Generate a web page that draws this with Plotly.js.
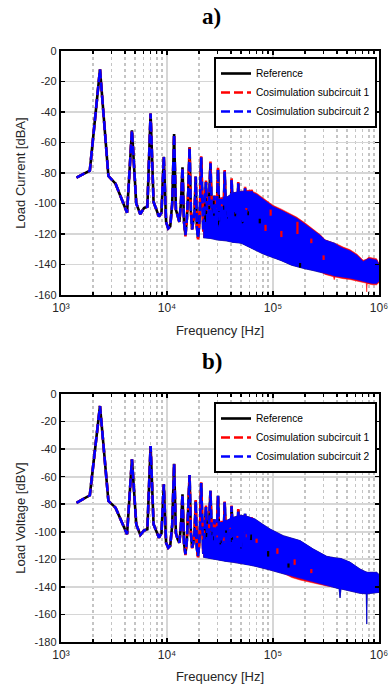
<!DOCTYPE html>
<html><head><meta charset="utf-8">
<script src="https://cdn.plot.ly/plotly-3.0.1.min.js"></script>
<style>html,body{margin:0;padding:0;background:#fff}#chart{width:390px;height:684px}</style>
</head><body><div id="chart"></div>
<script>
// ---------- shared frequency bins of the harmonic (line) region, Hz ----------
const lineF = [1400,1870,2333,2800,3270,3730,4200,4670,5130,5600,6070,6530,7000,7470,7930,8400,8870,9330,9800,10270,10730,11200,11670,12130,12600,13070,13530,14000,14470,14930,15400,15870,16330,16800,17270,17730,18200,18670,19130,19600,20070,20530,21000,22000,23330,24300,25700,26800,28000,29100,30300,31500,32700,33800,35000,36500,38000,39300,40700,42500,44500,45800,47000,49000,51500,53000,54500,57000,60000,63000,66000];

// ---------- a) Load current [dBA] ----------
const refA  = [-83,-78.5,-12,-82,-87,-97,-106,-52,-100,-107,-103,-102,-41,-99,-104,-108.6,-106,-69.3,-112,-116.3,-115,-100,-54.4,-104,-108,-112,-100,-76.3,-112,-120.7,-110,-92,-63.2,-105,-117,-112,-105,-82.4,-115,-122.6,-115,-100,-69.7,-118,-86,-121,-73.7,-119,-95,-122,-77.6,-120,-97,-123,-79,-121,-98,-123,-84.6,-122,-99,-124,-86.8,-124,-100,-125,-90,-126,-100,-92,-112];
const cos1A = [-83,-78.5,-12,-82,-87,-97,-106,-52,-100,-107,-103,-102,-41,-99,-104,-108.6,-106,-69.3,-112,-116.3,-115,-100,-54.4,-104,-108,-112,-100,-76.3,-112,-121.5,-110,-92,-63.2,-105,-117,-112,-105,-82.4,-115,-123.5,-115,-100,-69,-118.5,-85,-121.5,-72.5,-119.5,-94,-122.5,-76.5,-120.5,-96,-123.5,-78,-121.5,-97,-123.5,-83.5,-122.5,-98,-124.5,-86,-124.5,-99,-125.5,-89,-126.5,-99,-91,-112];
const cos2A = [-83,-78.5,-12,-82,-87,-97,-106,-52,-100,-107,-103,-102,-41,-99,-104,-108.6,-106,-69.3,-112,-116.3,-115,-100,-54.4,-104,-108,-112,-100,-76.3,-112,-120.7,-110,-92,-63.2,-105,-117,-112,-105,-82.4,-115,-122.6,-115,-100,-69.7,-118,-86,-121,-73.7,-119,-95,-122,-77.6,-120,-97,-123,-79,-121,-98,-123,-84.6,-122,-99,-124,-86.8,-124,-100,-125,-90,-126,-100,-92,-112];

// dense high-frequency band (upper / lower envelope)
const bandFA  = [22000,26000,30000,36000,42000,50000,60000,70000,80000,100000,120000,150000,167000,200000,240000,280000,310000,350000,380000,420000,460000,530000,620000,710000,760000,800000,870000,950000,1000000];
const bandUpA = [-110,-104,-100,-96,-93,-92,-92,-94,-97,-102,-104.5,-108,-109.7,-113.5,-117.4,-121,-124,-125,-126,-128,-129.4,-131,-134,-138,-137,-136,-136.5,-137,-140];
const bandLoA = [-122.5,-123,-124,-124.5,-125.5,-126,-128.5,-131,-133,-135.5,-137.5,-140.5,-141.5,-142.8,-144,-145,-145.8,-146.8,-147.5,-148,-148.5,-149,-150,-151,-151.5,-152,-152.5,-152.5,-151];
const redBandFA = [22000,26000,30000,36000,42000,50000,60000,70000,80000,100000,120000,150000,167000,200000,240000,280000,310000,350000,372000,378000,385000,420000,460000,530000,620000,710000,758000,766000,774000,800000,870000,950000,1000000];
const redUpA  = [-110.5,-104.5,-100.5,-96.5,-93.5,-92,-91.2,-93.2,-96.2,-101.2,-103.7,-107.2,-108.9,-112.7,-116.6,-120.5,-123.8,-125,-125.6,-125.8,-126,-127.2,-128.6,-130.2,-133.2,-137.2,-136.6,-136.4,-136.2,-135.2,-135.7,-136.2,-139.2];
const redLoA  = [-122,-122.5,-123.5,-124,-125,-125.5,-128,-130.5,-132.5,-135,-137,-140,-141,-142.3,-143.5,-144.5,-146.5,-147.5,-148,-150,-148.2,-148.8,-149.3,-149.8,-150.8,-151.8,-152.2,-158,-152.6,-152.8,-153.3,-153.3,-151.8];
// short traces of Reference / subcircuit 1 seen through the dashes of subcircuit 2
const refStreakFA = [23000,27500,31000,34000,37500,44000,52000,58000,75000,180000];
const refStreakLoA = [-112,-108,-115,-106,-110,-110,-113,-108,-113,-142];
const refStreakHiA = [-100,-98,-105,-100,-103,-104,-108,-104,-110,-139];
const redStreakFA = [24500,28500,33000,42000,56000,85000,95000,120000,170000,230000,300000];
const redStreakLoA = [-100,-106,-102,-110,-106,-118,-108,-122,-120,-126,-137];
const redStreakHiA = [-96,-103,-99,-106,-103,-114,-104,-118,-112,-123,-134];

// ---------- b) Load voltage [dBV] ----------
const refB  = [-79,-73.5,-8.7,-77.6,-82.5,-93,-101.8,-47.4,-94.6,-102.3,-99,-98.2,-37.7,-94.6,-99,-104.3,-101,-65.5,-108,-111.5,-110,-95,-50.6,-101,-105.4,-108,-96,-72.8,-108,-116.3,-106,-87,-58.8,-101,-111.5,-108,-100,-77.6,-112,-117.6,-110,-95,-64.6,-116,-82,-118,-70.2,-117,-91,-119,-73.8,-118,-93,-120,-78.6,-119,-95,-121,-81.5,-120,-96,-122,-84,-122,-97,-123,-87,-124,-97,-90,-108];
const cos1B = [-79,-73.5,-8.7,-77.6,-82.5,-93,-101.8,-47.4,-94.6,-102.3,-99,-98.2,-37.7,-94.6,-99,-104.3,-101,-65.5,-108,-111.5,-110,-95,-50.6,-101,-105.4,-108,-96,-72.8,-108,-117,-106,-86,-58.8,-101,-112,-108,-100,-77,-112,-118.5,-110,-95,-64,-116.5,-81,-118.5,-69.5,-117.5,-90,-119.5,-73,-118.5,-92,-120.5,-78,-119.5,-94,-121.5,-81,-120.5,-95.5,-122.5,-83.5,-122.5,-96.5,-123.5,-86.5,-124.5,-96.5,-89.5,-108];
const cos2B = [-79,-73.5,-8.7,-77.6,-82.5,-93,-101.8,-47.4,-94.6,-102.3,-99,-98.2,-37.7,-94.6,-99,-104.3,-101,-65.5,-108,-111.5,-110,-95,-50.6,-101,-105.4,-108,-96,-72.8,-108,-116.3,-106,-87,-58.8,-101,-111.5,-108,-100,-77.6,-112,-117.6,-110,-95,-64.6,-116,-82,-118,-70.2,-117,-91,-119,-73.8,-118,-93,-120,-78.6,-119,-95,-121,-81.5,-120,-96,-122,-84,-122,-97,-123,-87,-124,-97,-90,-108];

const bandFB  = [22000,26000,30000,36000,42000,50000,58000,67600,80000,93800,125000,150000,180000,240000,280000,321000,380000,420000,429000,438000,532000,662000,740000,758000,766000,774000,800000,951000,1000000];
const bandUpB = [-106,-100,-96,-92,-89.5,-88,-89,-90.7,-94.5,-98,-102.8,-104.8,-106.4,-112.5,-115.5,-117.8,-118.8,-119.3,-119.3,-119.4,-122,-127,-128.8,-129.2,-129.4,-129.4,-129.4,-129.4,-131];
const bandLoB = [-118.5,-119.5,-120.5,-121.5,-122.2,-123,-124,-125,-126.3,-127.8,-130.5,-132.5,-134.3,-136.5,-137.9,-139,-140.5,-141.3,-148,-141.5,-143,-144.7,-145,-145,-167,-145,-145,-144.2,-144];
const redUpB  = [-106.5,-100.5,-96.5,-92.5,-90,-88.5,-89.5,-91.2,-95,-98.5,-103.3,-105.3,-106.9,-113,-116,-118.3,-119.3,-119.8,-119.8,-119.9,-122.5,-127.5,-129.3,-129.7,-129.9,-129.9,-129.9,-129.9,-131.5];
const redLoB  = [-118,-119,-120,-121,-121.7,-122.5,-123.5,-124.5,-125.8,-127.3,-130,-133.2,-135,-137.2,-138.5,-139.4,-140,-140.8,-140.8,-141,-142.5,-144.2,-144.5,-144.5,-144.5,-144.5,-144.5,-143.7,-143.5];
const refStreakFB = [23500,27000,32000,36000,41000,50000,62000,90000,140000];
const refStreakLoB = [-105,-108,-112,-104,-110,-112,-106,-118,-126];
const refStreakHiB = [-97,-100,-105,-99,-104,-107,-102,-114,-123];
const redStreakFB = [25000,29500,34500,39000,46000,55000,70000,110000,160000,230000];
const redStreakLoB = [-99,-104,-108,-101,-107,-104,-108,-116,-124,-130];
const redStreakHiB = [-95,-100,-104,-97,-103,-100,-105,-112,-120,-127];

// ---------- labels ----------
const seriesNames = ['Reference','Cosimulation subcircuit 1','Cosimulation subcircuit 2'];
const yTicksA = [0,-20,-40,-60,-80,-100,-120,-140,-160];
const yTicksB = [0,-20,-40,-60,-80,-100,-120,-140,-160,-180];
const xTickVals = [1e3,1e4,1e5,1e6];
const xTickText = ['10\u00B3','10\u2074','10\u2075','10\u2076'];
const xMinorVals = [2e3,3e3,4e3,5e3,6e3,7e3,8e3,9e3,2e4,3e4,4e4,5e4,6e4,7e4,8e4,9e4,2e5,3e5,4e5,5e5,6e5,7e5,8e5,9e5];

const COL = ['#000000','#ff0000','#0000ff'];
const SANS = 'Liberation Sans, Arial, Helvetica, sans-serif';

function band(fx, up, lo, color, xa, ya) {
  return {x: fx.concat(fx.slice().reverse()), y: up.concat(lo.slice().reverse()),
    xaxis: xa, yaxis: ya, mode: 'lines', fill: 'toself', fillcolor: color,
    line: {color: color, width: 0.5}, showlegend: false, hoverinfo: 'skip'};
}
function streaks(fx, lo, hi, color, xa, ya) {
  const x = [], y = [];
  fx.forEach((f, i) => { x.push(f, f, null); y.push(lo[i], hi[i], null); });
  return {x: x, y: y, xaxis: xa, yaxis: ya, mode: 'lines', connectgaps: false,
    line: {color: color, width: 2.2}, showlegend: false, hoverinfo: 'skip'};
}
function line(y, i, xa, ya, leg) {
  return {x: lineF, y: y, xaxis: xa, yaxis: ya, mode: 'lines', name: seriesNames[i],
    legend: leg,
    line: {color: COL[i], width: 2.6, dash: i === 0 ? 'solid' : '9px,4px'}};
}

const traces = [
  band(bandFA, bandUpA, bandLoA, COL[0], 'x', 'y'),
  line(refA, 0, 'x', 'y', 'legend'),
  band(redBandFA, redUpA, redLoA, COL[1], 'x', 'y'),
  line(cos1A, 1, 'x', 'y', 'legend'),
  band(bandFA, bandUpA, bandLoA, COL[2], 'x', 'y'),
  streaks(refStreakFA, refStreakLoA, refStreakHiA, COL[0], 'x', 'y'),
  streaks(redStreakFA, redStreakLoA, redStreakHiA, COL[1], 'x', 'y'),
  line(cos2A, 2, 'x', 'y', 'legend'),
  band(bandFB, bandUpB, bandLoB, COL[0], 'x2', 'y2'),
  line(refB, 0, 'x2', 'y2', 'legend2'),
  band(bandFB, redUpB, redLoB, COL[1], 'x2', 'y2'),
  line(cos1B, 1, 'x2', 'y2', 'legend2'),
  band(bandFB, bandUpB, bandLoB, COL[2], 'x2', 'y2'),
  streaks(refStreakFB, refStreakLoB, refStreakHiB, COL[0], 'x2', 'y2'),
  streaks(redStreakFB, redStreakLoB, redStreakHiB, COL[1], 'x2', 'y2'),
  line(cos2B, 2, 'x2', 'y2', 'legend2')
];

function xAxis(anchor) {
  return {type: 'log', range: [3, 6], anchor: anchor, domain: [61/390, 379/390],
    tickmode: 'array', tickvals: xTickVals, ticktext: xTickText,
    showline: true, linecolor: '#000', linewidth: 2.2, mirror: 'allticks',
    ticks: 'inside', ticklen: 4, tickwidth: 1.5, tickcolor: '#000',
    showgrid: true, gridcolor: '#d6d6d6', gridwidth: 1.6, zeroline: false,
    tickfont: {family: SANS, size: 12, color: '#262626'},
    minor: {tickmode: 'array', tickvals: xMinorVals, ticks: 'inside', ticklen: 3, tickwidth: 1.5,
      tickcolor: '#000', showgrid: true, gridcolor: '#c4c4c4', gridwidth: 1.8, griddash: 'dot'},
    title: {text: 'Frequency [Hz]', font: {family: SANS, size: 13, color: '#262626'}, standoff: 12},
    automargin: false, fixedrange: true};
}
function yAxis(anchor, dom, ticks, title) {
  return {range: [ticks[ticks.length-1], 0], anchor: anchor, domain: dom,
    tickmode: 'array', tickvals: ticks, ticktext: ticks.map(String),
    showline: true, linecolor: '#000', linewidth: 2.2, mirror: 'allticks',
    ticks: 'inside', ticklen: 4, tickwidth: 1.5, tickcolor: '#000',
    showgrid: true, gridcolor: '#d6d6d6', gridwidth: 1.8, zeroline: false,
    tickfont: {family: SANS, size: 11, color: '#262626'},
    title: {text: title, font: {family: SANS, size: 13, color: '#262626'}, standoff: 6},
    automargin: false, fixedrange: true};
}
function legendAt(yTop) {
  return {x: 214/390, y: 1 - yTop/684, xanchor: 'left', yanchor: 'top',
    bgcolor: '#ffffff', bordercolor: '#000', borderwidth: 2,
    font: {family: SANS, size: 10.2, color: '#000'}, tracegroupgap: 0};
}

const layout = {
  width: 390, height: 684, margin: {l: 0, r: 0, t: 0, b: 0},
  paper_bgcolor: '#fff', plot_bgcolor: '#fff', showlegend: true,
  xaxis: xAxis('y'),
  yaxis: yAxis('x', [1 - 295/684, 1 - 51/684], yTicksA, 'Load Current [dBA]'),
  xaxis2: xAxis('y2'),
  yaxis2: yAxis('x2', [1 - 642/684, 1 - 394/684], yTicksB, 'Load Voltage [dBV]'),
  legend: legendAt(57),
  legend2: legendAt(402),
  annotations: [
    {text: '<b>a)</b>', xref: 'paper', yref: 'paper', x: 212/390, y: 1 - 16/684,
     xanchor: 'center', yanchor: 'middle', showarrow: false,
     font: {family: 'Liberation Serif, Times New Roman, serif', size: 23, color: '#000'}},
    {text: '<b>b)</b>', xref: 'paper', yref: 'paper', x: 212/390, y: 1 - 361/684,
     xanchor: 'center', yanchor: 'middle', showarrow: false,
     font: {family: 'Liberation Serif, Times New Roman, serif', size: 23, color: '#000'}}
  ]
};

Plotly.newPlot('chart', traces, layout, {staticPlot: true, displayModeBar: false});
</script>
</body></html>
